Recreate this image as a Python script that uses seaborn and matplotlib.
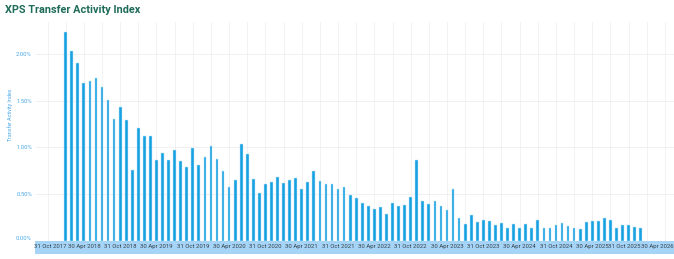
import matplotlib
matplotlib.use("Agg")
import matplotlib.pyplot as plt
import matplotlib.transforms as mtransforms
from matplotlib.patches import Rectangle
from matplotlib.ticker import FuncFormatter
import numpy as np
import pandas as pd
import seaborn as sns

# ---- data -------------------------------------------------------------
months = pd.date_range("2018-01-31", "2025-12-31", freq="ME").strftime("%b %Y").tolist()

values = [
    2.24, 2.04, 1.91, 1.69, 1.71, 1.75, 1.65, 1.51, 1.31, 1.43, 1.30, 0.76,
    1.21, 1.12, 1.12, 0.87, 0.94, 0.86, 0.97, 0.85, 0.79, 0.99, 0.81, 0.90,
    1.02, 0.88, 0.75, 0.58, 0.65, 1.04, 0.93, 0.66, 0.51, 0.61, 0.63, 0.68,
    0.62, 0.65, 0.67, 0.55, 0.63, 0.75, 0.64, 0.61, 0.61, 0.55, 0.58, 0.49,
    0.46, 0.40, 0.37, 0.34, 0.36, 0.29, 0.40, 0.37, 0.38, 0.47, 0.86, 0.43,
    0.39, 0.42, 0.37, 0.33, 0.55, 0.24, 0.18, 0.27, 0.20, 0.22, 0.21, 0.17,
    0.19, 0.14, 0.18, 0.13, 0.18, 0.14, 0.22, 0.13, 0.14, 0.17, 0.19, 0.16,
    0.14, 0.12, 0.20, 0.21, 0.21, 0.24, 0.22, 0.14, 0.17, 0.17, 0.15, 0.14,
]

tick_labels = [
    "31 Oct 2017", "30 Apr 2018", "31 Oct 2018", "30 Apr 2019", "31 Oct 2019",
    "30 Apr 2020", "31 Oct 2020", "30 Apr 2021", "31 Oct 2021", "30 Apr 2022",
    "31 Oct 2022", "30 Apr 2023", "31 Oct 2023", "30 Apr 2024", "31 Oct 2024",
    "30 Apr 2025", "31 Oct 2025", "30 Apr 2026",
]
yticks = [0.0, 0.5, 1.0, 1.5, 2.0]

title = "XPS Transfer Activity Index"
ylabel = "Transfer Activity Index"

# ---- style ------------------------------------------------------------
sns.set_theme(style="white")
plt.rcParams["font.family"] = ["Roboto", "DejaVu Sans"]

W, H = 674, 259
fig = plt.figure(figsize=(W / 100, H / 100), dpi=100)
ax_left, ax_bottom_px, ax_top_px = 35, 240.6, 22
ax = fig.add_axes([ax_left / W, (H - ax_bottom_px) / H,
                   (W - ax_left) / W, (ax_bottom_px - ax_top_px) / H])

df = pd.DataFrame({"month": months, "value": values})
sns.barplot(data=df, x="month", y="value", order=months, color="#17a1e1",
            saturation=1, width=0.45, edgecolor="#bfe6fa", linewidth=0.35,
            ax=ax)

ax.set_xlim(-5.07, 100.5)
ax.set_ylim(0, (ax_bottom_px - ax_top_px) / 93.15)

# x ticks: every 6 months, gridlines every 3 months
tick_pos = [-3 + 6 * i for i in range(len(tick_labels))]
minor_pos = [-3 + 3 * i for i in range(2 * len(tick_labels) - 1)]
ax.set_xticks(minor_pos, minor=True)
ax.set_xticks(tick_pos)
ax.set_xticklabels(tick_labels, fontsize=4.3, color="#34414c")
ax.tick_params(axis="x", which="both", length=0, pad=2.6)


def shift(label, dx_px):
    label.set_transform(label.get_transform() +
                        mtransforms.ScaledTranslation(dx_px / 100, 0, fig.dpi_scale_trans))


labs = ax.get_xticklabels()
labs[-1].set_horizontalalignment("right")
shift(labs[-1], 9)
shift(labs[-2], -4)
shift(labs[0], 3)

ax.set_yticks(yticks)
ax.yaxis.set_major_formatter(FuncFormatter(lambda v, p: f"{v:.2f}%"))
ax.tick_params(axis="y", length=0, pad=2.2, labelsize=4.2, labelcolor="#4aa8e8")
ylabs = ax.get_yticklabels()
ylabs[0].set_transform(ylabs[0].get_transform() +
                       mtransforms.ScaledTranslation(0, 3 / 100, fig.dpi_scale_trans))

ax.grid(axis="x", which="both", color="#f0f0f0", lw=0.6)
ax.grid(axis="y", color="#eeeeee", lw=0.6)
ax.set_axisbelow(True)
ax.set_xlabel("")
ax.set_ylabel("")
for s in ax.spines.values():
    s.set_visible(False)

# axis band behind the date labels
band_bottom = 254.3
fig.add_artist(Rectangle((ax_left / W, (H - band_bottom) / H),
                         (W - ax_left) / W, (band_bottom - ax_bottom_px) / H,
                         transform=fig.transFigure, color="#a6d4f6",
                         zorder=-1, lw=0))

fig.text(10 / W, 1 - 115 / H, ylabel, rotation=90, fontsize=3.8,
         color="#4aa8e8", ha="center", va="center")
fig.text(5 / W, 1 - 10 / H, title, fontsize=7.8, weight="bold",
         color="#1d6b58", ha="left", va="center")

fig.savefig("out.png", dpi=100)
